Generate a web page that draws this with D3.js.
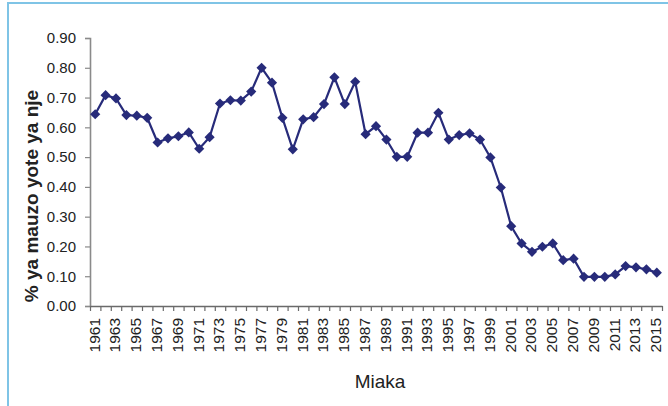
<!DOCTYPE html>
<html>
<head>
<meta charset="utf-8">
<script src="https://cdn.jsdelivr.net/npm/d3@7/dist/d3.min.js"></script>
<style>
  html, body { margin: 0; padding: 0; background: #fff; }
  svg { display: block; }
  text { font-family: "Liberation Sans", Arial, sans-serif; fill: #222; }
</style>
</head>
<body>
<svg id="chart" width="668" height="406"></svg>
<script>
const years = d3.range(1961, 2016).map(String);
const values = [
  0.644, 0.708, 0.697, 0.641, 0.639, 0.632, 0.549, 0.563, 0.570, 0.583,
  0.528, 0.567, 0.680, 0.691, 0.690, 0.720, 0.800, 0.750, 0.632, 0.526,
  0.627, 0.634, 0.678, 0.768, 0.678, 0.753, 0.577, 0.604, 0.559, 0.501,
  0.501, 0.582, 0.582, 0.649, 0.559, 0.574, 0.580, 0.559, 0.499, 0.398,
  0.268, 0.210, 0.182, 0.199, 0.210, 0.154, 0.159, 0.098, 0.098, 0.098,
  0.106, 0.134, 0.130, 0.123, 0.112
];
const yTicks = [0, 0.1, 0.2, 0.3, 0.4, 0.5, 0.6, 0.7, 0.8, 0.9];
const xLabelYears = years.filter((d, i) => i % 2 === 0);
const yTitle = "% ya mauzo yote ya nje";
const xTitle = "Miaka";

const svg = d3.select("#chart");
const mLeft = 90, mRight = 662, mTop = 38, mBottom = 306;

// frame
svg.append("path")
  .attr("d", `M8,406 L8,3 L668,3`)
  .attr("fill", "none")
  .attr("stroke", "#7fc4e6")
  .attr("stroke-width", 2);

const x = d3.scaleBand().domain(years).range([mLeft, mRight]).padding(0);
const xEdge = d3.scaleLinear().domain([0, years.length]).range([mLeft, mRight]);
const y = d3.scaleLinear().domain([0, 0.9]).range([mBottom, mTop]);

// y axis
const yAxis = svg.append("g")
  .attr("transform", `translate(${mLeft},0)`)
  .call(d3.axisLeft(y).tickValues(yTicks).tickSize(5).tickPadding(9)
        .tickFormat(d3.format(".2f")));
yAxis.select(".domain").attr("stroke", "#8a8a8a").attr("stroke-width", 1.6);
yAxis.selectAll(".tick line").attr("stroke", "#8a8a8a").attr("stroke-width", 1.2);
yAxis.selectAll(".tick text").attr("font-size", 15)
  .attr("font-family", "Liberation Sans, Arial, sans-serif").attr("fill", "#1a1a1a");

// x axis ticks at category boundaries
const xAxis = svg.append("g")
  .attr("transform", `translate(0,${mBottom})`)
  .call(d3.axisBottom(xEdge).tickValues(d3.range(years.length + 1)).tickSize(5)
        .tickSizeOuter(0).tickFormat(""));
xAxis.select(".domain").attr("stroke", "#6a6a6a").attr("stroke-width", 1.6);
xAxis.selectAll(".tick line").attr("stroke", "#6a6a6a").attr("stroke-width", 1.2);

// x labels
const xLab = svg.append("g")
  .attr("transform", `translate(0,${mBottom})`)
  .call(d3.axisBottom(x).tickValues(xLabelYears).tickSize(0).tickPadding(0));
xLab.select(".domain").remove();
xLab.selectAll(".tick text")
  .attr("font-size", 15.5)
  .attr("font-family", "Liberation Sans, Arial, sans-serif")
  .attr("fill", "#1a1a1a")
  .attr("text-anchor", "end")
  .attr("transform", "translate(-1,12) rotate(-90)")
  .attr("x", 0).attr("y", 0).attr("dy", "0.35em");

// line
const line = d3.line()
  .x((d, i) => x(years[i]) + x.bandwidth() / 2)
  .y(d => y(d));
svg.append("path")
  .datum(values)
  .attr("d", line)
  .attr("fill", "none")
  .attr("stroke", "#272b7a")
  .attr("stroke-width", 2.2);

// markers
const sym = d3.symbol().type(d3.symbolSquare).size(52);
svg.append("g").selectAll("path")
  .data(values)
  .join("path")
  .attr("d", sym)
  .attr("fill", "#272b7a")
  .attr("transform", (d, i) =>
    `translate(${x(years[i]) + x.bandwidth() / 2},${y(d)}) rotate(45)`);

// titles
svg.append("text")
  .attr("transform", `translate(31,196) rotate(-90)`)
  .attr("text-anchor", "middle")
  .attr("dy", "0.35em")
  .attr("font-size", 19)
  .attr("font-weight", "bold")
  .attr("fill", "#1a1a1a")
  .text(yTitle);

svg.append("text")
  .attr("x", 380).attr("y", 388)
  .attr("text-anchor", "middle")
  .attr("font-size", 19)
  .attr("fill", "#1a1a1a")
  .text(xTitle);
</script>
</body>
</html>
